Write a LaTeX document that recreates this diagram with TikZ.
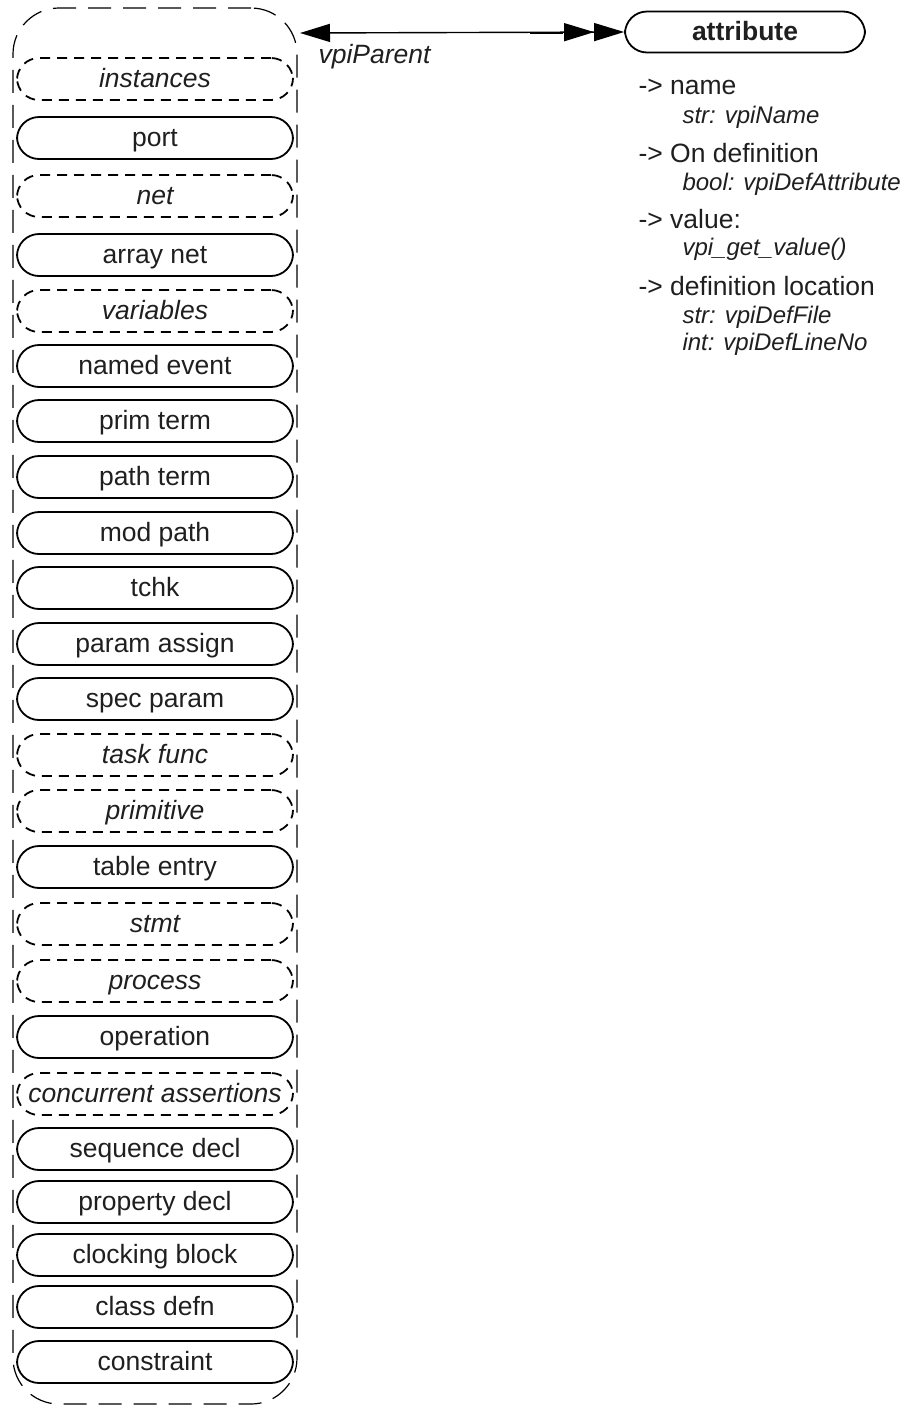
\documentclass[tikz,border=0pt]{standalone}
\usepackage{fontspec}
\setmainfont{Liberation Sans}
\usetikzlibrary{arrows.meta}
\begin{document}
\begin{tikzpicture}[x=1pt,y=-1pt,
  txt/.style={font=\fontsize{26.5}{30}\selectfont, text=black!88},
  sub/.style={font=\fontsize{24}{28}\selectfont\itshape, text=black!88},
  obj/.style={draw, line width=1.8pt, rounded corners=22pt, minimum width=276pt,
    minimum height=42pt, inner sep=0pt, text height=20pt, text depth=4pt, txt},
  cls/.style={obj, dash pattern=on 10pt off 7pt, font=\fontsize{26.5}{30}\selectfont\itshape},
  group/.style={draw, line width=1.2pt, dash pattern=on 23pt off 12pt, rounded corners=46pt,
    minimum width=284pt, minimum height=1396pt, inner sep=0pt},
  headtip/.tip={Triangle[length=30pt,width=18pt]}
]
\useasboundingbox (0,0) rectangle (907,1406);

\node[group] (container) at (155,706) {};

\node[cls] (instances) at (155,79) {instances};
\node[obj] (port) at (155,138) {port};
\node[cls] (net) at (155,196) {net};
\node[obj] (arraynet) at (155,255) {array net};
\node[cls] (variables) at (155,311) {variables};
\node[obj] (namedevent) at (155,366) {named event};
\node[obj] (primterm) at (155,421) {prim term};
\node[obj] (pathterm) at (155,477) {path term};
\node[obj] (modpath) at (155,533) {mod path};
\node[obj] (tchk) at (155,588) {tchk};
\node[obj] (paramassign) at (155,644) {param assign};
\node[obj] (specparam) at (155,699) {spec param};
\node[cls] (taskfunc) at (155,755) {task func};
\node[cls] (primitive) at (155,811) {primitive};
\node[obj] (tableentry) at (155,867) {table entry};
\node[cls] (stmt) at (155,924) {stmt};
\node[cls] (process) at (155,981) {process};
\node[obj] (operation) at (155,1037) {operation};
\node[cls] (concurrent) at (155,1094) {concurrent assertions};
\node[obj] (seqdecl) at (155,1149) {sequence decl};
\node[obj] (propdecl) at (155,1202) {property decl};
\node[obj] (clocking) at (155,1255) {clocking block};
\node[obj] (classdefn) at (155,1307) {class defn};
\node[obj] (constraint) at (155,1362) {constraint};

\node[obj, minimum width=240pt, minimum height=41pt, font=\fontsize{26.5}{30}\selectfont\bfseries] (attribute) at (745,32) {attribute};

\coordinate (parentend) at (300,33);
\coordinate (thick) at (530,33);
\draw[line width=1.4pt, {headtip}-{headtip[]headtip}] (parentend) -- (attribute.west);
\draw[line width=2.4pt] (thick) -- (563,33);
\node[txt, font=\fontsize{26.5}{30}\selectfont\itshape, anchor=west] (vpiparent) at (315,57) {vpiParent};

\node[txt, anchor=west] (l1) at (635,87) {-> name};
\node[sub, anchor=west] (l2) at (679,117) {str: vpiName};
\node[txt, anchor=west] (l3) at (635,153) {-> On definition};
\node[sub, anchor=west] (l4) at (679,184) {bool: vpiDefAttribute};
\node[txt, anchor=west] (l5) at (635,219) {-> value:};
\node[sub, anchor=west] (l6) at (679,249) {vpi\_get\_value()};
\node[txt, anchor=west] (l7) at (635,286) {-> definition location};
\node[sub, anchor=west] (l8) at (679,317) {str: vpiDefFile};
\node[sub, anchor=west] (l9) at (679,344) {int: vpiDefLineNo};
\end{tikzpicture}
\end{document}
